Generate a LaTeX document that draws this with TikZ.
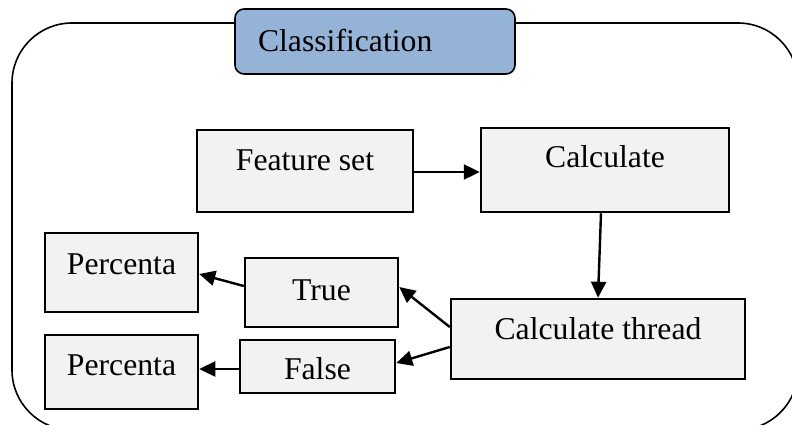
\documentclass[tikz,border=0pt]{standalone}
\usepackage{fontspec}
\setmainfont{Liberation Serif}
\usetikzlibrary{arrows.meta}
\definecolor{boxfill}{HTML}{F2F2F2}
\definecolor{headfill}{HTML}{95B3D7}
\tikzset{
  stepbox/.style={draw=black, line width=2.5pt, fill=boxfill, inner sep=0pt,
    font=\fontsize{31.7}{38}\selectfont},
  baseoff/.style={text height=20pt+#1, text depth=20pt-#1},
  flow/.style={line width=2.4pt, -{Triangle[length=16pt,width=15pt]}},
  frame/.style={draw=black, line width=1.6pt, rounded corners=60pt},
}
\begin{document}
\begin{tikzpicture}[x=1pt, y=-1pt]
  \useasboundingbox (0,0) rectangle (792,425);

  % outer frame, partly running off the page on the right and bottom
  \begin{scope}
    \clip (0,0) rectangle (792,425);
    \draw[frame] (12,23) rectangle (798,430);
  \end{scope}

  % title tab
  \node[stepbox, line width=1.6pt, fill=headfill, rounded corners=9pt,
        minimum width=280pt, minimum height=65pt, baseoff=10.5pt,
        text width=234pt, align=left] (title) at (375,41.5) {Classification};

  % boxes
  \node[stepbox, minimum width=216pt, minimum height=82pt, baseoff=-1pt]
    (fs) at (305,171) {Feature set};
  \node[stepbox, minimum width=248pt, minimum height=84pt, baseoff=-3pt]
    (calc) at (605,170) {Calculate};
  \node[stepbox, minimum width=294pt, minimum height=80pt, baseoff=0pt]
    (thread) at (598,339) {Calculate thread};
  \node[stepbox, minimum width=153pt, minimum height=69pt, baseoff=7.5pt]
    (tru) at (321.5,292.5) {True};
  \node[stepbox, minimum width=155pt, minimum height=53pt, baseoff=12.5pt]
    (fls) at (317.5,366.5) {False};
  \node[stepbox, minimum width=153pt, minimum height=79pt, baseoff=1.5pt]
    (pa) at (121.5,272.5) {Percenta};
  \node[stepbox, minimum width=153pt, minimum height=74pt, baseoff=3pt]
    (pb) at (121.5,372) {Percenta};

  % connectors
  \draw[flow] ([yshift=-1pt]fs.east) -- ([yshift=-1pt]fs.east -| calc.west);
  \draw[flow] ([xshift=-4pt]calc.south) -- (thread.north);
  \draw[flow] ([yshift=12pt]thread.west) -- ([yshift=5.5pt]tru.east);
  \draw[flow] ([yshift=-8pt]thread.west) -- ([yshift=3.5pt]fls.east);
  \draw[flow] ([yshift=6.5pt]tru.west) -- ([yshift=-1.5pt]pa.east);
  \draw[flow] ([yshift=-2.5pt]fls.west) -- ([yshift=-2.5pt]fls.west -| pb.east);
\end{tikzpicture}
\end{document}
